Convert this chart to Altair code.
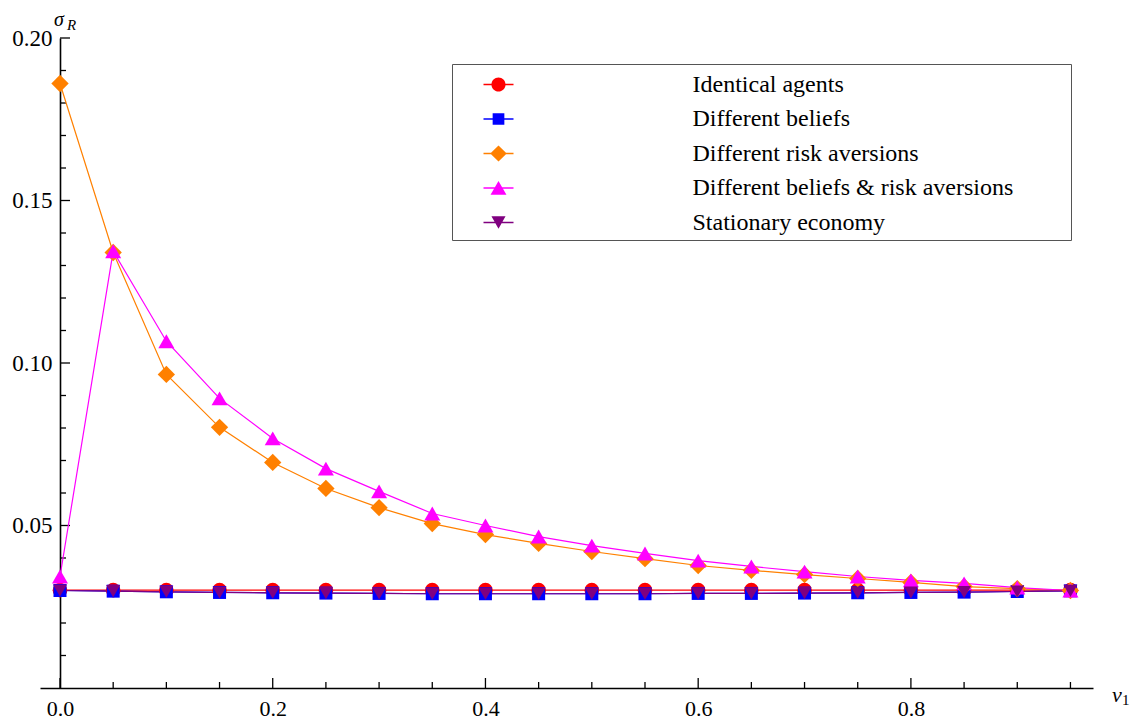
import altair as alt
import pandas as pd

# ---------------- data ----------------
nu = [0.00, 0.05, 0.10, 0.15, 0.20, 0.25, 0.30, 0.35, 0.40, 0.45,
      0.50, 0.55, 0.60, 0.65, 0.70, 0.75, 0.80, 0.85, 0.90, 0.95]

identical = [0.0301, 0.0301, 0.0301, 0.0301, 0.0301, 0.0301, 0.0301, 0.0301, 0.0301, 0.0301,
             0.0301, 0.0301, 0.0301, 0.0301, 0.0301, 0.0301, 0.0301, 0.0301, 0.0301, 0.0301]
beliefs = [0.0300, 0.0298, 0.0296, 0.0294, 0.0293, 0.0292, 0.0291, 0.0290, 0.0290, 0.0290,
           0.0290, 0.0290, 0.0291, 0.0291, 0.0292, 0.0293, 0.0294, 0.0295, 0.0297, 0.0299]
risk = [0.1860, 0.1340, 0.0965, 0.0802, 0.0694, 0.0614, 0.0555, 0.0506, 0.0472, 0.0445,
        0.0420, 0.0398, 0.0377, 0.0362, 0.0349, 0.0337, 0.0325, 0.0312, 0.0306, 0.0300]
both = [0.0343, 0.1344, 0.1067, 0.0891, 0.0768, 0.0675, 0.0605, 0.0537, 0.0500, 0.0466,
        0.0438, 0.0414, 0.0392, 0.0374, 0.0358, 0.0343, 0.0331, 0.0322, 0.0309, 0.0300]
stationary = [0.0300, 0.0298, 0.0296, 0.0294, 0.0293, 0.0292, 0.0291, 0.0290, 0.0290, 0.0290,
              0.0290, 0.0290, 0.0291, 0.0291, 0.0292, 0.0293, 0.0294, 0.0295, 0.0297, 0.0299]

series_names = ["Identical agents", "Different beliefs", "Different risk aversions",
                "Different beliefs & risk aversions", "Stationary economy"]
series_values = [identical, beliefs, risk, both, stationary]
colors = ["#FF0000", "#0000FF", "#FF8000", "#FF00FF", "#800080"]
shapes = ["circle", "square", "diamond", "triangle-up", "triangle-down"]
sizes = [216, 169, 300, 256, 196]

# legend symbols: short line segment + marker
seg = "M-1,-0.045H1V0.045H-1Z "
legend_paths = [
    seg + "M0.47,0A0.47,0.47 0 1,1 -0.47,0A0.47,0.47 0 1,1 0.47,0Z",
    seg + "M-0.39,-0.39H0.39V0.39H-0.39Z",
    seg + "M0,-0.53L0.55,0L0,0.53L-0.55,0Z",
    seg + "M0,-0.47L0.53,0.45L-0.53,0.45Z",
    seg + "M-0.47,-0.42L0.47,-0.42L0,0.42Z",
]

x_major = [0.0, 0.2, 0.4, 0.6, 0.8]
x_minor = [0.05, 0.10, 0.15, 0.25, 0.30, 0.35, 0.45, 0.50, 0.55, 0.65, 0.70, 0.75, 0.85, 0.90, 0.95]
y_major = [0.05, 0.10, 0.15, 0.20]
y_minor = [0.01, 0.02, 0.03, 0.04, 0.06, 0.07, 0.08, 0.09, 0.11, 0.12, 0.13, 0.14,
           0.16, 0.17, 0.18, 0.19]

rows = []
for name, vals in zip(series_names, series_values):
    for xv, yv in zip(nu, vals):
        rows.append({"series": name, "nu": xv, "sigma": yv})
df = pd.DataFrame(rows)

# ---------------- layout ----------------
W, H = 1053, 650
FONT = "Liberation Serif"
xs = alt.Scale(domain=[-0.0188, 0.9712], nice=False, zero=False)
ys = alt.Scale(domain=[0.0, 0.2], nice=False, zero=False)

x_axis = alt.Axis(values=x_major, format=".1f", ticks=False, tickSize=0, labelPadding=10,
                  labelFont=FONT, labelFontSize=22, labelColor="black", labelFlush=False,
                  labelOverlap=False, domainColor="black", domainWidth=1.6, grid=False, title=None)
y_axis = alt.Axis(values=y_major, format=".2f", ticks=False, tickSize=0, labelPadding=8,
                  offset=-20, labelFont=FONT, labelFontSize=23, labelColor="black",
                  labelOverlap=False, domainColor="black", domainWidth=1.6, grid=False, title=None)

X = alt.X("nu:Q", scale=xs, axis=x_axis)
Y = alt.Y("sigma:Q", scale=ys, axis=y_axis)

layers = []

# tick marks (pointing inward)
xmaj = pd.DataFrame({"v": x_major})
xmin = pd.DataFrame({"v": x_minor})
ymaj = pd.DataFrame({"v": y_major})
ymin = pd.DataFrame({"v": y_minor})
layers.append(alt.Chart(xmaj).mark_rule(color="black", strokeWidth=1.3).encode(
    x=alt.X("v:Q", scale=xs, axis=x_axis), y=alt.value(H), y2=alt.value(H - 10)))
layers.append(alt.Chart(xmin).mark_rule(color="black", strokeWidth=1.3).encode(
    x=alt.X("v:Q", scale=xs, axis=x_axis), y=alt.value(H), y2=alt.value(H - 6)))
layers.append(alt.Chart(ymaj).mark_rule(color="black", strokeWidth=1.3).encode(
    y=alt.Y("v:Q", scale=ys, axis=y_axis), x=alt.value(20), x2=alt.value(30)))
layers.append(alt.Chart(ymin).mark_rule(color="black", strokeWidth=1.3).encode(
    y=alt.Y("v:Q", scale=ys, axis=y_axis), x=alt.value(20), x2=alt.value(26)))

# lines
for name, col in zip(series_names, colors):
    layers.append(
        alt.Chart(df).transform_filter(alt.datum.series == name)
        .mark_line(color=col, strokeWidth=1.2)
        .encode(x=X, y=Y, order="nu:Q")
    )

# markers
for name, col, shp, sz in zip(series_names, colors, shapes, sizes):
    layers.append(
        alt.Chart(df).transform_filter(alt.datum.series == name)
        .mark_point(filled=True, shape=shp, size=sz, color=col, opacity=1, strokeWidth=0)
        .encode(x=X, y=Y)
    )

# legend carrier (invisible points)
leg = alt.Legend(orient="none", legendX=412, legendY=26, title="\u00a0", titleOrient="right",
                 titlePadding=52, titleFontSize=10, padding=5.5, rowPadding=7.5, symbolOffset=26,
                 labelOffset=179, labelFont=FONT, labelFontSize=24, labelColor="black",
                 labelLimit=600, symbolSize=900, symbolStrokeWidth=0, symbolOpacity=1,
                 strokeColor="#555555", fillColor="white")
layers.append(
    alt.Chart(df).mark_point(filled=True, opacity=0, size=900).encode(
        x=X, y=Y,
        color=alt.Color("series:N", scale=alt.Scale(domain=series_names, range=colors), legend=leg),
        shape=alt.Shape("series:N", scale=alt.Scale(domain=series_names, range=legend_paths), legend=leg),
    )
)

# axis titles (sigma_R, nu_1)
for t, px, py, fs in [("σ", 14, -12, 20), ("ν", 1072, 664, 22)]:
    layers.append(alt.Chart(pd.DataFrame({"t": [t]})).mark_text(
        font=FONT, fontSize=fs, fontStyle="italic", align="left", baseline="alphabetic", color="black"
    ).encode(text="t:N", x=alt.value(px), y=alt.value(py)))
for t, px, py, st in [("R", 27, -8, "italic"), ("1", 1082, 667, "normal")]:
    layers.append(alt.Chart(pd.DataFrame({"t": [t]})).mark_text(
        font=FONT, fontSize=15, fontStyle=st, align="left", baseline="alphabetic", color="black"
    ).encode(text="t:N", x=alt.value(px), y=alt.value(py)))

chart = alt.layer(*layers).properties(
    width=W, height=H,
    autosize=alt.AutoSizeParams(type="none"),
    padding={"left": 32, "top": 30, "right": 38, "bottom": 31},
).configure(background="white", view=alt.ViewConfig(stroke=None))

chart.save("out.html", embed_options={"renderer": "svg", "actions": False})
